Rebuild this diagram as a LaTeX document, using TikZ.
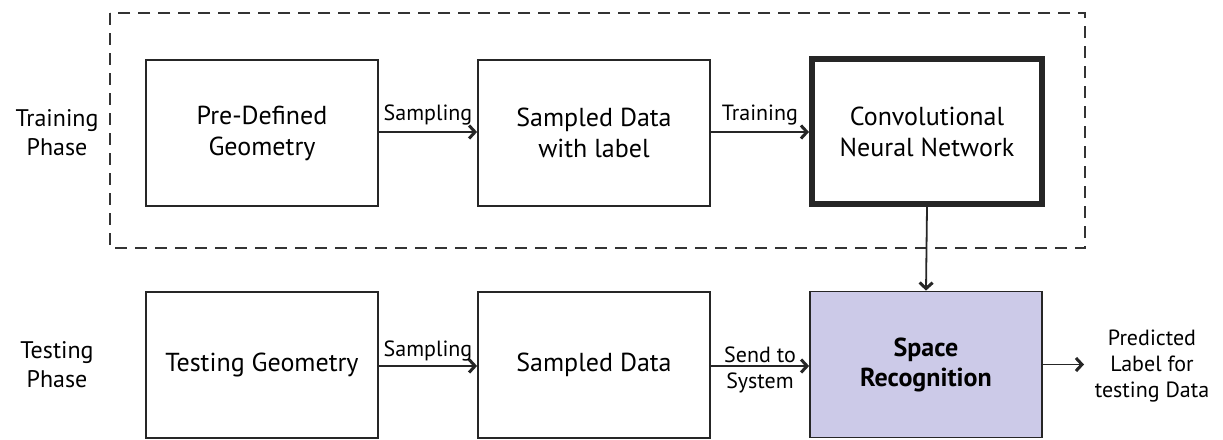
\documentclass[tikz,border=0pt]{standalone}
\usepackage{fontspec}
\setmainfont{PT Sans}
\usetikzlibrary{arrows.meta}
\definecolor{lav}{RGB}{204,202,232}
\begin{document}
\begin{tikzpicture}[x=1pt,y=-1pt,
  box/.style={draw=black!85,line width=1.8pt,minimum width=232pt,minimum height=146pt,align=center,font=\fontsize{26}{31}\selectfont,inner sep=0pt},
  cnnbox/.style={box,line width=6pt,minimum width=230pt,minimum height=145pt},
  srbox/.style={box,fill=lav,font=\fontsize{26}{30}\selectfont\bfseries},
  lbl/.style={font=\fontsize{22}{26}\selectfont,align=center,inner sep=0pt},
  phase/.style={font=\fontsize{24}{29}\selectfont,align=center,inner sep=0pt},
  arr/.style={line width=1.8pt,draw=black!85,-{Straight Barb[length=6pt,width=13pt,line width=3pt]}},
  frame/.style={draw=black!80,line width=1.8pt,dash pattern=on 12pt off 8pt}
]
\useasboundingbox (0,0) rectangle (1223,439);
\draw[frame] (110,13) rectangle (1085,248);
\node[phase] (tp) at (57,133) {Training\\Phase};
\node[phase] (sp) at (57,365) {Testing\\Phase};
\node[box] (pd) at (262,133) {Pre-Defined\\Geometry};
\node[box] (sd) at (594,133) {Sampled Data\\with label};
\node[cnnbox] (cnn) at (927,131.5) {Convolutional\\Neural Network};
\node[box] (tg) at (262,365) {Testing Geometry};
\node[box] (sdd) at (594,365) {Sampled Data};
\node[srbox] (sr) at (926,364.5) {Space\\Recognition};
\node[lbl] (out) at (1152,366) {Predicted\\Label for\\testing Data};
\coordinate (oe) at (1084,364.5);
\draw[arr] (pd.east |- 0,132) -- node[lbl,above=6pt] {Sampling} (sd.west |- 0,132);
\draw[arr] (sd.east |- 0,132) -- node[lbl,above=6pt] {Training} (cnn.west |- 0,132);
\draw[arr] (cnn.south) -- (sr.north);
\draw[arr] (tg.east |- 0,366) -- node[lbl,above=4pt] {Sampling} (sdd.west |- 0,366);
\draw[arr] (sdd.east |- 0,366) -- node[lbl,yshift=-4pt] {Send to\\System} (sr.west |- 0,366);
\draw[arr] (sr.east) -- (oe);
\end{tikzpicture}
\end{document}
